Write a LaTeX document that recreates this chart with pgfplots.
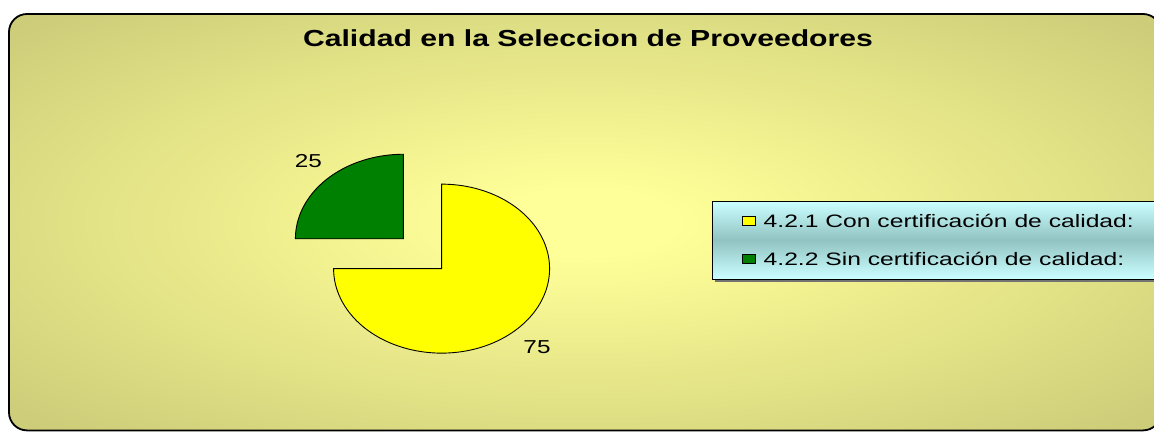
\documentclass[border=0pt]{standalone}
\usepackage{pgfplots}
\pgfplotsset{compat=1.18}
\usepackage{pgfplotstable}
\usepackage{fontspec}
\setmainfont{Liberation Sans}[FakeStretch=1.3]
\newfontfamily\legfont{Liberation Sans}[FakeStretch=1.37]
\definecolor{bgin}{RGB}{255,255,153}
\definecolor{bgout}{RGB}{190,190,112}
\definecolor{pieyellow}{RGB}{255,255,0}
\definecolor{piegreen}{RGB}{0,128,0}
\definecolor{legtop}{RGB}{204,255,255}
\definecolor{legmid}{RGB}{145,195,195}
\pgfdeclareradialshading{bgshade}{\pgfpoint{0bp}{0bp}}{color(0bp)=(bgin); color(4bp)=(bgin); color(43bp)=(bgout); color(71bp)=(bgout)}

\pgfplotstableread{
label value
Con 75
Sin 25
}\piedata
\pgfplotstablegetelem{0}{value}\of\piedata \let\va\pgfplotsretval
\pgfplotstablegetelem{1}{value}\of\piedata \let\vb\pgfplotsretval
% angles (Excel: start at 12 o'clock, clockwise)
\pgfmathsetmacro\aS{90}
\pgfmathsetmacro\aA{\aS-3.6*\va}
\pgfmathsetmacro\aB{\aA-3.6*\vb}
\pgfmathsetmacro\midA{(\aS+\aA)/2}
\pgfmathsetmacro\midB{(\aA+\aB)/2}
\pgfmathsetmacro\gS{\aB+360}
\pgfmathsetmacro\gE{\aA+360}
% pie geometry in pixel units
\def\cx{422.5}\def\cy{177.3}\def\rx{108}\def\ry{84.5}\def\ex{0.25}
\pgfmathsetmacro\cxA{\cx+\ex*\rx*cos(\midA)}
\pgfmathsetmacro\cyA{\cy+\ex*\ry*sin(\midA)}
\pgfmathsetmacro\cxB{\cx+\ex*\rx*cos(\midB)}
\pgfmathsetmacro\cyB{\cy+\ex*\ry*sin(\midB)}

\begin{document}
\begin{tikzpicture}[x=1bp,y=1bp]
\shade[shading=bgshade, rounded corners=18bp] (9,0.6) rectangle (1161,417);
\draw[line width=1.8bp, rounded corners=18bp] (9,0.6) rectangle (1161,417);
% legend box background with shadow
\fill[black!55] (714.5,149.5) rectangle (1170,227.5);
\shade[top color=legtop, bottom color=legtop, middle color=legmid] (712,152) rectangle (1168,230);
\draw[line width=0.8bp] (712,152) rectangle (1168,230);
\begin{axis}[
  at={(0,0)}, anchor=south west,
  width=1154bp, height=431bp, scale only axis,
  xmin=0, xmax=1154, ymin=0, ymax=431,
  enlargelimits=false, hide axis, clip=false,
  title={Calidad en la Seleccion de Proveedores},
  title style={font=\bfseries\fontsize{23.2bp}{28bp}\selectfont,
    at={(axis description cs:0.5095,0.8787)}, anchor=base, inner sep=0bp},
  legend style={at={(axis cs:712,230)}, anchor=north west,
    draw=none, fill=none,
    font=\legfont\fontsize{18bp}{21bp}\selectfont,
    inner xsep=29.3bp, inner ysep=13.3bp, row sep=25.1bp, column sep=8bp,
    nodes={inner sep=0bp}},
  legend cell align=left,
  legend image code/.code={\draw[line width=0.8bp] (0bp,-4.7bp) rectangle (13.4bp,4.7bp);},
]
\addplot[fill=pieyellow, draw=black, line width=0.9bp, domain=\aA:\aS, samples=121, variable=\t]
  ({\cxA+\rx*cos(\t)}, {\cyA+\ry*sin(\t)}) -- (\cxA,\cyA) -- cycle;
\addlegendentry[text height=12.9bp, text depth=0bp]{4.2.1 Con certificación de calidad:}
\addplot[fill=piegreen, draw=black, line width=0.9bp, domain=\gS:\gE, samples=61, variable=\t]
  ({\cxB+\rx*cos(\t)}, {\cyB+\ry*sin(\t)}) -- (\cxB,\cyB) -- cycle;
\addlegendentry[text height=12.9bp, text depth=0bp]{4.2.2 Sin certificación de calidad:}
\node[font=\fontsize{18.7bp}{22bp}\selectfont, anchor=base, inner sep=0bp] at (axis cs:308.3,263.3) {\vb};
\node[font=\fontsize{18.7bp}{22bp}\selectfont, anchor=base, inner sep=0bp] at (axis cs:537,77.7) {\va};
\end{axis}
\pgfresetboundingbox
\useasboundingbox (0,0) rectangle (1154,431);
\end{tikzpicture}
\end{document}
